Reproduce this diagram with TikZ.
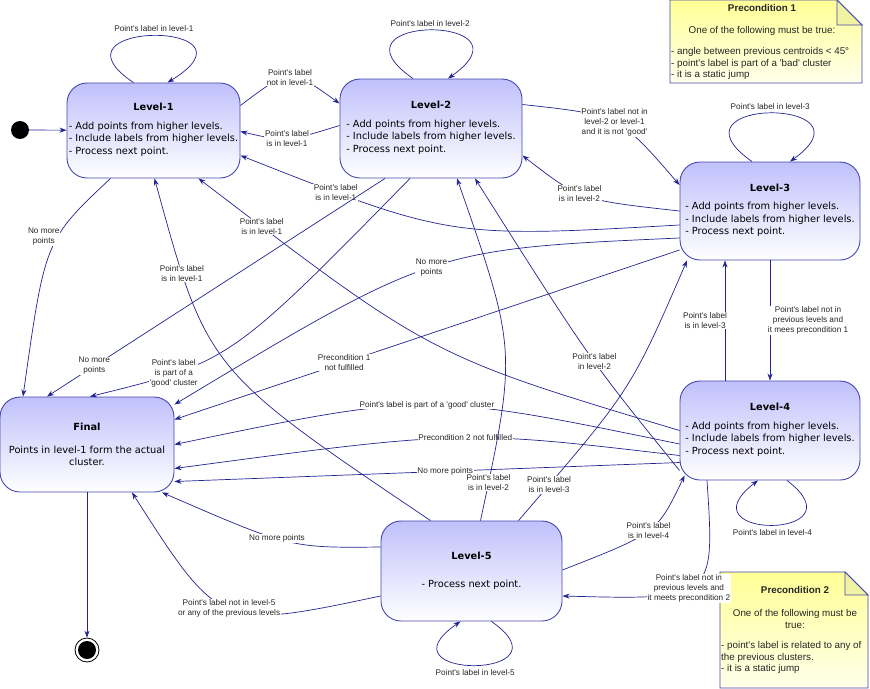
\documentclass[tikz,border=0pt]{standalone}
\usepackage{fontspec}
\setmainfont{DejaVu Sans}
\newfontfamily\lblfont{Liberation Sans}
\usetikzlibrary{arrows.meta}
\definecolor{edgecol}{RGB}{35,35,145}
\definecolor{boxline}{RGB}{70,70,175}
\definecolor{boxtop}{RGB}{192,192,252}
\definecolor{notetop}{RGB}{255,255,150}
\definecolor{notebot}{RGB}{255,255,235}
\newcommand\levtext[2]{\textbf{#1}\\[9pt]\begin{tabular}{@{}l@{}}#2\end{tabular}}
\tikzset{
  levbox/.style={draw=boxline,line width=0.9pt,rounded corners=20pt,
    top color=boxtop,bottom color=white,align=center,inner sep=0pt,
    font=\fontsize{9.8}{12.3}\selectfont},
  edge/.style={draw=edgecol,line width=0.7pt,-{Stealth[length=7pt,width=5pt]}},
  lbl/.style={font=\lblfont\fontsize{8.2}{10}\selectfont,fill=white,inner sep=0.6pt,
    align=center,text=black!85},
  notebox/.style={draw=boxline,line width=0.8pt,top color=notetop,bottom color=notebot},
  notetext/.style={font=\lblfont\fontsize{9.8}{11.7}\selectfont,text=black!85}
}
\begin{document}
\begin{tikzpicture}[x=1pt,y=-1pt]
  \useasboundingbox (0,0) rectangle (870,688);
  % states
  \node[levbox,minimum width=173pt,minimum height=95pt] (L1) at (153.5,130.5)
    {\levtext{Level-1}{- Add points from higher levels.\\- Include labels from higher levels.\\- Process next point.}};
  \node[levbox,minimum width=182pt,minimum height=99pt] (L2) at (431,128.5)
    {\levtext{Level-2}{- Add points from higher levels.\\- Include labels from higher levels.\\- Process next point.}};
  \node[levbox,minimum width=180pt,minimum height=98pt] (L3) at (770,211)
    {\levtext{Level-3}{- Add points from higher levels.\\- Include labels from higher levels.\\- Process next point.}};
  \node[levbox,minimum width=180pt,minimum height=99pt] (L4) at (770,430.5)
    {\levtext{Level-4}{- Add points from higher levels.\\- Include labels from higher levels.\\- Process next point.}};
  \node[levbox,minimum width=181pt,minimum height=100pt] (L5) at (471.5,571)
    {\textbf{Level-5}\\[16pt]- Process next point.};
  \node[levbox,minimum width=174pt,minimum height=95pt] (Final) at (87,444.5)
    {\textbf{Final}\\[10pt]Points in level-1 form the actual\\cluster.};
  \node[circle,fill=black,minimum size=18pt,inner sep=0pt] (start) at (20,130) {};
  \node[circle,draw=black,line width=0.8pt,minimum size=24pt,inner sep=0pt] (stop) at (87,650) {};
  \fill (stop) circle (9);
  % notes
  \draw[notebox] (670,0) -- (837,0) -- (862,25) -- (862,83) -- (670,83) -- cycle;
  \draw[boxline,line width=0.8pt,fill=notetop!70!white!90!olive] (837,0) -- (837,25) -- (862,25) -- cycle;
  \node[notetext,font=\lblfont\bfseries\fontsize{9.8}{11}\selectfont] (pre1) at (762,8) {Precondition 1};
  \node[notetext] (pre1a) at (762,31) {One of the following must be true:};
  \node[notetext,anchor=north west,align=left,inner sep=0pt] (pre1b) at (671,47)
    {- angle between previous centroids < 45°\\- point's label is part of a 'bad' cluster\\- it is a static jump};
  \draw[notebox] (720,572) -- (845,572) -- (868,595) -- (868,688) -- (720,688) -- cycle;
  \draw[boxline,line width=0.8pt,fill=notetop!70!white!90!olive] (845,572) -- (845,595) -- (868,595) -- cycle;
  \node[notetext,font=\lblfont\bfseries\fontsize{9.8}{11}\selectfont] (pre2) at (795,590) {Precondition 2};
  \node[notetext,align=center] (pre2a) at (795,619) {One of the following must be\\true:};
  \node[notetext,anchor=north west,align=left,inner sep=0pt] (pre2b) at (721,641)
    {- point's label is related to any of\\the previous clusters.\\- it is a static jump};
  % self loops
  \draw[edge] ([xshift=-20pt]L1.north) .. controls (40,20) and (270,20) .. node[lbl,above=3pt]{Point's label in level-1} ([xshift=14pt]L1.north);
  \draw[edge] ([xshift=-18pt]L2.north) .. controls (320,14) and (540,14) .. node[lbl,above=3pt]{Point's label in level-2} ([xshift=17pt]L2.north);
  \draw[edge] ([xshift=-18pt]L3.north) .. controls (660,97) and (880,97) .. node[lbl,above=3pt]{Point's label in level-3} ([xshift=20pt]L3.north);
  \draw[edge] ([xshift=17pt]L4.south) .. controls (865,540) and (680,540) .. node[lbl,below=3pt]{Point's label in level-4} ([xshift=-12pt]L4.south);
  \draw[edge] ([xshift=20pt]L5.south) .. controls (575,680) and (375,680) .. node[lbl,below=3pt]{Point's label in level-5} ([xshift=-11pt]L5.south);
  % transitions
  \draw[edge] (start) -- (L1);
  \draw[edge] (Final) -- (stop);
  \draw[edge] ([yshift=25pt]L1.east) .. controls (290,68) .. node[lbl]{Point's label\\not in level-1} ([yshift=25pt]L2.west);
  \draw[edge] ([yshift=3pt]L2.west) .. controls (286,142) .. node[lbl]{Point's label\\is in level-1} ([yshift=-1pt]L1.east);
  \draw[edge] ([yshift=-14pt]L3.west) .. controls (450,238) .. node[lbl,pos=0.82]{Point's label\\is in level-1} ([yshift=-25pt]L1.east);
  \draw[edge] (L4.west) .. controls (431,356) .. node[lbl,pos=0.9]{Point's label\\is in level-1} ([xshift=45pt]L1.south);
  \draw[edge] ([xshift=-41pt]L5.north) .. controls (207,370) .. node[lbl,pos=0.8]{Point's label\\is in level-1} ([xshift=1pt]L1.south);
  \draw[edge] ([xshift=-43pt]L1.south) .. controls (45,240) .. node[lbl,pos=0.4,xshift=-14pt]{No more\\points} ([xshift=-64pt]Final.north);
  \draw[edge] ([xshift=-46pt]L2.south) -- node[lbl,pos=0.86]{No more\\points} ([xshift=-40pt]Final.north);
  \draw[edge] ([xshift=-21pt]L2.south) .. controls (230,362) .. node[lbl,pos=0.75]{Point's label\\is part of a\\'good' cluster} ([xshift=3pt]Final.north);
  \draw[edge] ([yshift=-27pt]L3.west) .. controls (433,249) .. node[lbl]{No more\\points} ([yshift=40pt]Final.east);
  \draw[edge] ([yshift=-39pt]L3.west) -- node[lbl,pos=0.664]{Precondition 1\\not fulfilled} ([yshift=25pt]Final.east);
  \draw[edge] ([yshift=-13.5pt]L4.west) .. controls (427,392) .. node[lbl]{Point's label is part of a 'good' cluster} (Final.east);
  \draw[edge] ([yshift=-25pt]L4.west) .. controls (463,430) .. node[lbl,pos=0.47]{Precondition 2 not fulfilled} ([yshift=-24pt]Final.east);
  \draw[edge] ([yshift=-32pt]L4.west) -- node[lbl,pos=0.464]{No more points} ([yshift=-37pt]Final.east);
  \draw[edge] ([yshift=24pt]L5.west) .. controls (290,548) .. node[lbl,pos=0.55]{No more points} ([xshift=75pt]Final.south);
  \draw[edge] ([yshift=-25pt]L5.west) .. controls (220,630) .. node[lbl]{Point's label not in level-5\\or any of the previous levels} ([xshift=45pt]Final.south);
  \draw[edge] ([yshift=24pt]L2.east) .. controls (619,115) .. node[lbl]{Point's label not in\\level-2 or level-1\\and it is not 'good'} ([yshift=26pt]L3.west);
  \draw[edge] (L3.west) .. controls (580,200) .. node[lbl,pos=0.55]{Point's label\\is in level-2} ([yshift=-27pt]L2.east);
  \draw[edge] (L3.south) -- node[lbl,anchor=west,xshift=-3pt]{Point's label not in\\previous levels and\\it mees precondition 1} (L4.north);
  \draw[edge] ([xshift=-45pt]L4.north) -- node[lbl,anchor=east,xshift=3pt]{Point's label\\is in level-3} ([xshift=-45pt]L3.south);
  \draw[edge] ([xshift=9pt]L5.north) .. controls (517,350) .. node[lbl,pos=0.08]{Point's label\\is in level-2} ([xshift=26pt]L2.south);
  \draw[edge] ([xshift=47pt]L5.north) .. controls (631,390) .. node[lbl,pos=0.1]{Point's label\\is in level-3} ([xshift=-83pt]L3.south);
  \draw[edge] ([yshift=-40pt]L4.west) .. controls (590,360) .. node[lbl,pos=0.45]{Point's label\\in level-2} ([xshift=44pt]L2.south);
  \draw[edge] ([yshift=1pt]L5.east) .. controls (657,533) .. node[lbl]{Point's label\\is in level-4} ([xshift=5pt,yshift=-45pt]L4.west);
  \draw[edge] ([xshift=-63pt]L4.south) .. controls (715,600) .. node[lbl,pos=0.55]{Point's label not in\\previous levels and\\it meets precondition 2} ([yshift=-25pt]L5.east);
\end{tikzpicture}
\end{document}
